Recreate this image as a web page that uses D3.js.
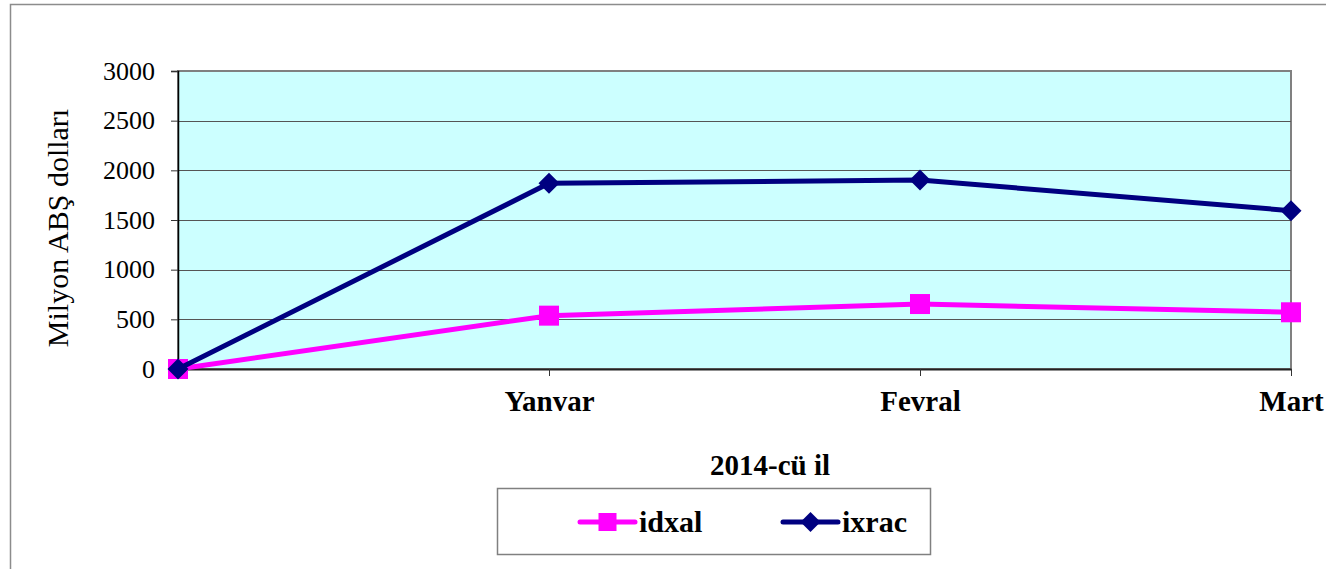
<!DOCTYPE html>
<html>
<head>
<meta charset="utf-8">
<script src="https://cdn.jsdelivr.net/npm/d3@7"></script>
<style>
  body { margin: 0; background: #fff; }
</style>
</head>
<body>
<div id="chart"></div>
<script>
// Data
let categories = ["", "Yanvar", "Fevral", "Mart"];
let idxal = [0, 537, 654, 571];
let ixrac = [0, 1869, 1903, 1594];
let yTicks = [0, 500, 1000, 1500, 2000, 2500, 3000];
let seriesNames = ["idxal", "ixrac"];

let svgWidth = 1326;
let svgHeight = 569;
let serif = '"Liberation Serif", "Times New Roman", serif';

let plot = { left: 178, right: 1291, top: 71, bottom: 369 };

let svg = d3.select("#chart")
            .append("svg")
            .attr("width", svgWidth)
            .attr("height", svgHeight);

// outer chart frame
svg.append("rect")
    .attr("x", 10.5)
    .attr("y", 4.5)
    .attr("width", 1340)
    .attr("height", 600)
    .attr("fill", "#fff")
    .attr("stroke", "#8c8c8c")
    .attr("stroke-width", 1.5);

let x = d3.scalePoint()
        .domain(categories)
        .range([plot.left, plot.right]);

let y = d3.scaleLinear()
        .domain([0, 3000])
        .range([plot.bottom, plot.top]);

// plot area background
svg.append("rect")
    .attr("x", plot.left)
    .attr("y", plot.top)
    .attr("width", plot.right - plot.left)
    .attr("height", plot.bottom - plot.top)
    .attr("fill", "#CCFFFF")
    .attr("stroke", "#808080")
    .attr("stroke-width", 2);

// gridlines
svg.append("g")
    .selectAll("line")
    .data(yTicks.filter(d => d > 0 && d < 3000))
    .enter()
    .append("line")
    .attr("x1", plot.left)
    .attr("x2", plot.right)
    .attr("y1", d => Math.round(y(d)) + 0.5)
    .attr("y2", d => Math.round(y(d)) + 0.5)
    .attr("stroke", "#555")
    .attr("stroke-width", 1);

// y axis
let yAxis = d3.axisLeft(y).tickValues(yTicks).tickFormat(d3.format("d")).tickSize(7).tickPadding(16);
let yG = svg.append("g")
    .attr("transform", `translate(${plot.left}, 0)`)
    .call(yAxis);
yG.select(".domain").attr("stroke", "#000").attr("stroke-width", 1.5);
yG.selectAll(".tick line").attr("stroke", "#333");
yG.selectAll("text")
    .style("font-family", serif)
    .style("font-size", "26px")
    .attr("fill", "#000");

// x axis
let xAxis = d3.axisBottom(x).tickSize(7).tickPadding(14).tickSizeOuter(0);
let xG = svg.append("g")
    .attr("transform", `translate(0, ${plot.bottom})`)
    .call(xAxis);
xG.select(".domain").attr("stroke", "#222").attr("stroke-width", 2);
xG.selectAll(".tick line").attr("stroke", "#333");
xG.selectAll("text")
    .style("font-family", serif)
    .style("font-size", "29px")
    .style("font-weight", "bold")
    .attr("fill", "#000");

// axis titles
svg.append("text")
    .attr("x", 770)
    .attr("y", 475)
    .attr("text-anchor", "middle")
    .style("font-family", serif)
    .style("font-size", "29px")
    .style("font-weight", "bold")
    .text("2014-cü il");

svg.append("text")
    .attr("transform", `translate(68, ${(plot.top + plot.bottom) / 2 + 8}) rotate(-90)`)
    .attr("text-anchor", "middle")
    .style("font-family", serif)
    .style("font-size", "30px")
    .text("Milyon ABŞ dolları");

// lines
let line = d3.line()
    .x((d, i) => x(categories[i]))
    .y(d => y(d));

let colors = { idxal: "#FF00FF", ixrac: "#000080" };

svg.append("path")
    .datum(idxal)
    .attr("d", line)
    .attr("fill", "none")
    .attr("stroke", colors.idxal)
    .attr("stroke-width", 5);

svg.append("g")
    .selectAll("rect")
    .data(idxal)
    .enter()
    .append("rect")
    .attr("x", (d, i) => x(categories[i]) - 10)
    .attr("y", d => y(d) - 10)
    .attr("width", 20)
    .attr("height", 20)
    .attr("fill", colors.idxal);

svg.append("path")
    .datum(ixrac)
    .attr("d", line)
    .attr("fill", "none")
    .attr("stroke", colors.ixrac)
    .attr("stroke-width", 5);

let diamond = (cx, cy, r) => `M${cx},${cy - r}L${cx + r},${cy}L${cx},${cy + r}L${cx - r},${cy}Z`;

svg.append("g")
    .selectAll("path")
    .data(ixrac)
    .enter()
    .append("path")
    .attr("d", (d, i) => diamond(x(categories[i]), y(d), 10.5))
    .attr("fill", colors.ixrac);

// legend
let legend = svg.append("g");
legend.append("rect")
    .attr("x", 497.5)
    .attr("y", 488.5)
    .attr("width", 433)
    .attr("height", 66)
    .attr("fill", "#fff")
    .attr("stroke", "#808080")
    .attr("stroke-width", 1.5);

let legendX = [580, 783];
seriesNames.forEach((name, i) => {
    let lx = legendX[i];
    let ly = 522;
    legend.append("line")
        .attr("x1", lx)
        .attr("x2", lx + 55)
        .attr("y1", ly)
        .attr("y2", ly)
        .attr("stroke", colors[name])
        .attr("stroke-width", 5)
        .attr("stroke-linecap", "round");
    if (name === "idxal") {
        legend.append("rect")
            .attr("x", lx + 27.5 - 9)
            .attr("y", ly - 9)
            .attr("width", 18)
            .attr("height", 18)
            .attr("fill", colors[name]);
    } else {
        legend.append("path")
            .attr("d", diamond(lx + 27.5, ly, 10))
            .attr("fill", colors[name]);
    }
    legend.append("text")
        .attr("x", lx + 59)
        .attr("y", ly + 10)
        .style("font-family", serif)
        .style("font-size", "30px")
        .style("font-weight", "bold")
        .text(name);
});
</script>
</body>
</html>
